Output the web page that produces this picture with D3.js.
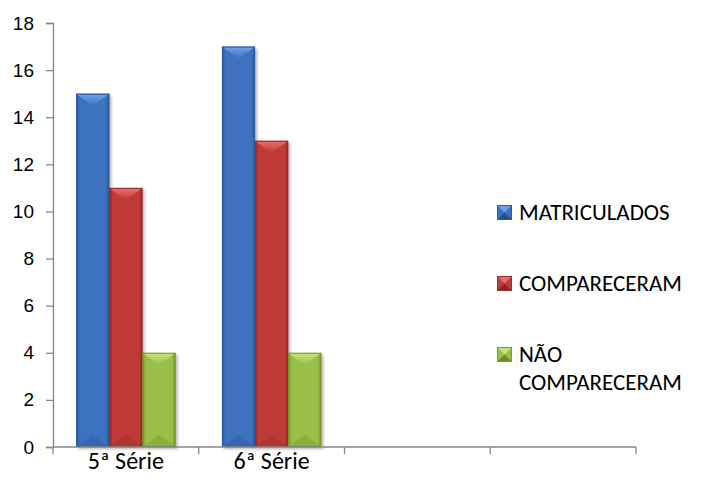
<!DOCTYPE html>
<html>
<head>
<meta charset="utf-8">
<script src="https://cdn.jsdelivr.net/npm/d3@7"></script>
<style>
  html, body { margin: 0; padding: 0; background: #fff; }
  svg { display: block; }
</style>
</head>
<body>
<svg id="chart" width="709" height="491"></svg>
<script>
// Chart data
const categories = ["5ª Série", "6ª Série", "", " "];
const seriesNames = ["MATRICULADOS", "COMPARECERAM", "NÃO COMPARECERAM"];
const matriculados = [15, 17, null, null];
const compareceram = [11, 13, null, null];
const naoCompareceram = [4, 4, null, null];
const yTicks = [0, 2, 4, 6, 8, 10, 12, 14, 16, 18];

const seriesValues = [matriculados, compareceram, naoCompareceram];
const palette = [
  { base: "#3c72c0", light: "#6da2e8", dark: "#264f8c", edge: "#2d5c9c" },
  { base: "#c03a39", light: "#e26f6c", dark: "#8c2424", edge: "#9b2c2b" },
  { base: "#99bf48", light: "#c6e37e", dark: "#6c8c28", edge: "#7c9c33" }
];

const svg = d3.select("#chart");
const defs = svg.append("defs");

palette.forEach((c, i) => {
  const g = defs.append("linearGradient").attr("id", "body" + i)
    .attr("x1", 0).attr("x2", 1).attr("y1", 0).attr("y2", 0);
  g.append("stop").attr("offset", "0%").attr("stop-color", c.dark);
  g.append("stop").attr("offset", "10%").attr("stop-color", c.base);
  g.append("stop").attr("offset", "90%").attr("stop-color", c.base);
  g.append("stop").attr("offset", "100%").attr("stop-color", c.dark);
  const t = defs.append("linearGradient").attr("id", "top" + i)
    .attr("x1", 0).attr("x2", 0).attr("y1", 0).attr("y2", 1);
  t.append("stop").attr("offset", "0%").attr("stop-color", c.light);
  t.append("stop").attr("offset", "100%").attr("stop-color", c.base);
});
const shadow = defs.append("filter").attr("id", "shadow")
  .attr("x", "-20%").attr("y", "-5%").attr("width", "150%").attr("height", "115%");
shadow.append("feDropShadow").attr("dx", 2).attr("dy", 2).attr("stdDeviation", 1.5)
  .attr("flood-color", "#000").attr("flood-opacity", 0.3);

const plot = { left: 53, right: 636, top: 23, bottom: 447 };

const x = d3.scaleBand().domain(categories)
  .range([plot.left, plot.right]).paddingInner(0).paddingOuter(0);
const inner = d3.scaleBand().domain(d3.range(seriesNames.length))
  .range([0, x.bandwidth()]).paddingOuter(0.7).paddingInner(0);
const y = d3.scaleLinear().domain([0, 18]).range([plot.bottom, plot.top]);

// Y axis
const yAxis = svg.append("g").attr("transform", `translate(${plot.left},0)`)
  .call(d3.axisLeft(y).tickValues(yTicks).tickSize(7).tickPadding(12));
yAxis.select(".domain").attr("stroke", "#868686").attr("stroke-width", 1.3);
yAxis.selectAll(".tick line").attr("stroke", "#868686").attr("stroke-width", 1.3);
yAxis.selectAll(".tick text")
  .attr("font-family", "Liberation Sans, Arial, sans-serif")
  .attr("font-size", 19).attr("fill", "#000");

// Bars
seriesValues.forEach((vals, s) => {
  const c = palette[s];
  vals.forEach((v, i) => {
    if (v == null) return;
    const x0 = x(categories[i]) + inner(s);
    const w = inner.bandwidth();
    const y0 = y(v), y1 = y(0);
    const xc = x0 + w / 2;
    const d = Math.min(12, (y1 - y0) / 2);
    const g = svg.append("g");
    g.append("rect").attr("x", x0).attr("y", y0).attr("width", w).attr("height", y1 - y0)
      .attr("fill", `url(#body${s})`).attr("filter", "url(#shadow)");
    // top bevel
    g.append("polygon")
      .attr("points", [[x0 + 1, y0 + 1], [x0 + w - 1, y0 + 1], [xc, y0 + d]].join(" "))
      .attr("fill", `url(#top${s})`);
    // bottom bevel
    g.append("polygon")
      .attr("points", [[x0 + 1, y1 - 1], [x0 + w - 1, y1 - 1], [xc, y1 - d]].join(" "))
      .attr("fill", c.dark).attr("opacity", 0.3);
    g.append("rect").attr("x", x0 + 0.5).attr("y", y0 + 0.5).attr("width", w - 1).attr("height", y1 - y0 - 1)
      .attr("fill", "none").attr("stroke", c.edge).attr("stroke-width", 1);
  });
});

// X axis
const xAxis = svg.append("g").attr("transform", `translate(0,${plot.bottom})`);
xAxis.append("line").attr("x1", plot.left).attr("x2", plot.right)
  .attr("stroke", "#868686").attr("stroke-width", 1.3);
const tickPositions = categories.map(c => x(c)).concat([plot.right]);
xAxis.selectAll(".xt").data(tickPositions).enter().append("line")
  .attr("x1", d => d).attr("x2", d => d).attr("y1", 0).attr("y2", 7)
  .attr("stroke", "#868686").attr("stroke-width", 1.3);
xAxis.selectAll(".xl").data(categories).enter().append("text")
  .attr("x", d => x(d) + x.bandwidth() / 2).attr("y", 22)
  .attr("text-anchor", "middle")
  .attr("font-family", "Carlito, Lato, 'Open Sans', sans-serif")
  .attr("font-size", 24).attr("fill", "#000")
  .text(d => d.trim());

// Legend
const legendRows = [
  { lines: ["MATRICULADOS"], y: 212 },
  { lines: ["COMPARECERAM"], y: 283 },
  { lines: ["NÃO", "COMPARECERAM"], y: 354 }
];
legendRows.forEach((row, i) => {
  const c = palette[i];
  const lx = 497, ly = row.y - 7, s = 15;
  svg.append("rect").attr("x", lx).attr("y", ly).attr("width", s).attr("height", s).attr("fill", c.base);
  svg.append("polygon").attr("points", [[lx, ly], [lx + s, ly], [lx + s / 2, ly + s / 2]].join(" ")).attr("fill", c.light);
  svg.append("polygon").attr("points", [[lx, ly + s], [lx + s, ly + s], [lx + s / 2, ly + s / 2]].join(" ")).attr("fill", c.dark);
  svg.append("rect").attr("x", lx + 0.5).attr("y", ly + 0.5).attr("width", s - 1).attr("height", s - 1)
    .attr("fill", "none").attr("stroke", c.edge);
  const t = svg.append("text").attr("x", 519).attr("y", row.y + 8)
    .attr("font-family", "Carlito, Lato, 'Open Sans', sans-serif")
    .attr("font-size", 23).attr("fill", "#000");
  row.lines.forEach((ln, k) => {
    t.append("tspan").attr("x", 519).attr("dy", k === 0 ? 0 : 28).text(ln);
  });
});
</script>
</body>
</html>
